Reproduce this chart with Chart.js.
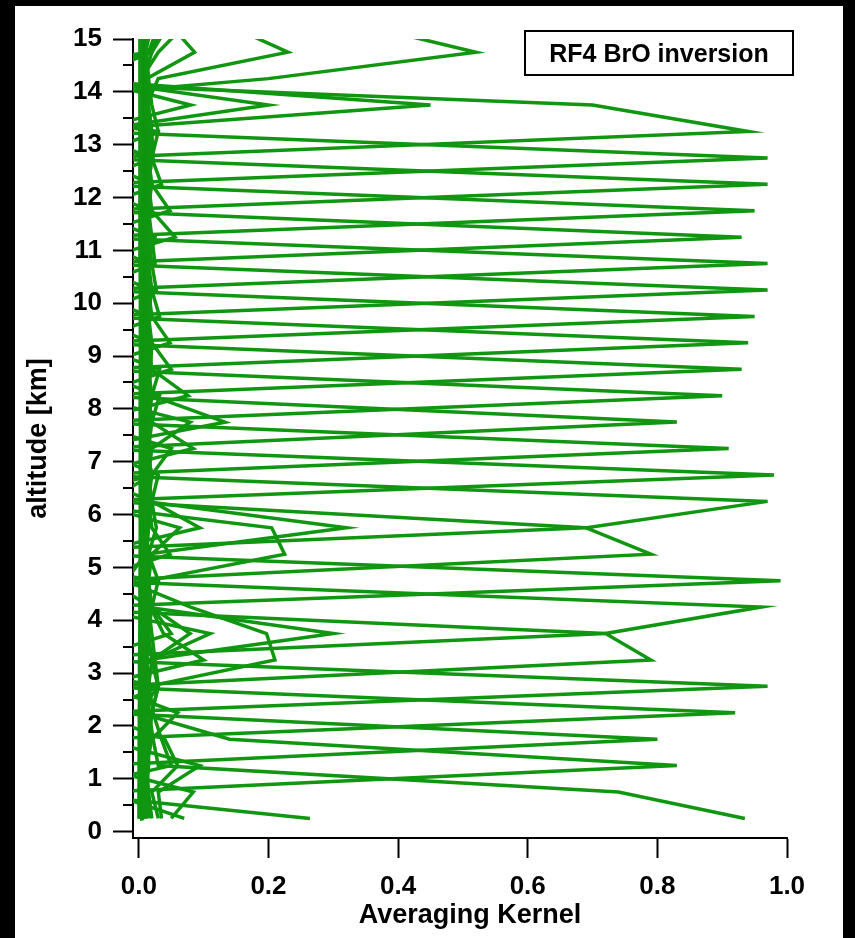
<!DOCTYPE html>
<html>
<head>
<meta charset="utf-8">
<script src="https://cdn.jsdelivr.net/npm/chart.js@4.4.1/dist/chart.umd.min.js"></script>
<style>
  html, body { margin: 0; padding: 0; background: #000; }
  #wrap { position: relative; width: 855px; height: 938px; }
</style>
</head>
<body>
<div id="wrap"><canvas id="ak" width="855" height="938"></canvas></div>
<script>
// Retrieval grid: layer centres in km
const altitudeKm = [0.25, 0.75, 1.25, 1.75, 2.25, 2.75, 3.25, 3.75, 4.25, 4.75, 5.25, 5.75, 6.25, 6.75, 7.25, 7.75,
  8.25, 8.75, 9.25, 9.75, 10.25, 10.75, 11.25, 11.75, 12.25, 12.75, 13.25, 13.75, 14.25, 14.75, 15.25];

// Averaging-kernel rows (one value per layer above), named by the layer they peak in
const ak_0_25  = [0.935, 0.74, 0.03, 0.022, 0.016, 0.012, 0.010, 0.008, 0.007, 0.006, 0.005, 0.005, 0.004, 0.004, 0.004, 0.003, 0.003, 0.003, 0.003, 0.003, 0.002, 0.002, 0.002, 0.002, 0.002, 0.002, 0.002, 0.002, 0.002, 0.002, 0.002];
const ak_0_25b = [0.264, -0.13, 0.05, 0.035, 0.022, 0.016, 0.012, 0.010, 0.009, 0.008, 0.007, 0.006, 0.006, 0.005, 0.005, 0.005, 0.004, 0.004, 0.004, 0.004, 0.003, 0.003, 0.003, 0.003, 0.003, 0.003, 0.003, 0.002, 0.002, 0.002, 0.002];
const ak_1_25  = [0.07, -0.05, 0.83, 0.14, 0.0, 0.03, 0.02, 0.015, 0.012, 0.010, 0.009, 0.008, 0.007, 0.006, 0.006, 0.005, 0.005, 0.005, 0.004, 0.004, 0.004, 0.004, 0.003, 0.003, 0.003, 0.003, 0.003, 0.003, 0.003, 0.003, 0.003];
const ak_1_75  = [0.05, 0.084, -0.07, 0.80, -0.06, 0.03, 0.025, 0.02, 0.015, 0.012, 0.010, 0.009, 0.008, 0.007, 0.007, 0.006, 0.006, 0.005, 0.005, 0.005, 0.004, 0.004, 0.004, 0.004, 0.004, 0.003, 0.003, 0.003, 0.003, 0.003, 0.003];
const ak_2_25  = [0.035, 0.03, 0.094, -0.06, 0.92, -0.07, 0.10, 0.038, 0.018, 0.015, 0.012, 0.011, 0.010, 0.009, 0.008, 0.007, 0.007, 0.006, 0.006, 0.005, 0.005, 0.005, 0.005, 0.004, 0.004, 0.004, 0.004, 0.004, 0.004, 0.003, 0.003];
const ak_2_75  = [0.03, 0.02, 0.06, 0.04, -0.07, 0.97, -0.08, 0.05, 0.02, 0.015, 0.012, 0.010, 0.010, 0.009, 0.008, 0.008, 0.007, 0.007, 0.006, 0.006, 0.006, 0.005, 0.005, 0.005, 0.005, 0.004, 0.004, 0.004, 0.004, 0.004, 0.004];
const ak_3_25  = [0.02, 0.015, 0.012, 0.02, 0.06, -0.05, 0.79, 0.72, 0.96, -0.08, 0.048, 0.02, 0.015, 0.012, 0.010, 0.009, 0.008, 0.008, 0.007, 0.007, 0.006, 0.006, 0.006, 0.005, 0.005, 0.005, 0.005, 0.004, 0.004, 0.004, 0.004];
const ak_3_75  = [0.015, 0.012, 0.01, 0.01, 0.012, 0.015, 0.01, 0.30, 0.01, 0.012, 0.010, 0.008, 0.007, 0.006, 0.006, 0.005, 0.005, 0.004, 0.004, 0.004, 0.004, 0.003, 0.003, 0.003, 0.003, 0.003, 0.003, 0.002, 0.002, 0.002, 0.002];
const ak_3_75b = [0.01, 0.012, 0.015, 0.015, 0.012, 0.015, 0.21, 0.197, 0.08, -0.02, 0.01, 0.008, 0.007, 0.006, 0.006, 0.005, 0.005, 0.004, 0.004, 0.004, 0.004, 0.003, 0.003, 0.003, 0.003, 0.003, 0.003, 0.002, 0.002, 0.002, 0.002];
const ak_3_75c = [0.012, 0.012, 0.012, 0.015, 0.02, 0.03, -0.19, 0.72, -0.19, 0.03, 0.015, 0.01, 0.008, 0.007, 0.006, 0.006, 0.005, 0.005, 0.004, 0.004, 0.004, 0.003, 0.003, 0.003, 0.003, 0.003, 0.002, 0.002, 0.002, 0.002, 0.002];
const ak_4_75  = [0.01, 0.01, 0.012, 0.015, 0.02, 0.03, 0.02, 0.11, -0.08, 0.99, -0.08, 0.094, 0.02, 0.015, 0.012, 0.010, 0.009, 0.008, 0.008, 0.007, 0.007, 0.006, 0.006, 0.005, 0.005, 0.005, 0.005, 0.004, 0.004, 0.004, 0.004];
const ak_5_25  = [0.008, 0.008, 0.01, 0.01, 0.012, 0.015, 0.02, 0.079, 0.02, -0.05, 0.79, 0.69, 0.97, -0.08, 0.084, 0.02, 0.015, 0.012, 0.010, 0.009, 0.008, 0.008, 0.007, 0.007, 0.006, 0.006, 0.005, 0.005, 0.005, 0.004, 0.004];
const ak_5_75  = [0.006, 0.007, 0.008, 0.008, 0.009, 0.01, 0.012, 0.015, 0.012, 0.015, 0.01, 0.32, 0.01, 0.012, 0.010, 0.008, 0.007, 0.006, 0.006, 0.005, 0.005, 0.005, 0.004, 0.004, 0.004, 0.003, 0.003, 0.003, 0.003, 0.003, 0.003];
const ak_5_75b = [0.006, 0.007, 0.008, 0.008, 0.009, 0.01, 0.012, 0.012, 0.014, 0.015, 0.225, 0.205, -0.13, 0.02, 0.012, 0.010, 0.008, 0.007, 0.006, 0.006, 0.005, 0.005, 0.005, 0.004, 0.004, 0.004, 0.003, 0.003, 0.003, 0.003, 0.003];
const ak_5_75c = [0.006, 0.006, 0.007, 0.008, 0.009, 0.01, 0.012, 0.015, 0.02, 0.03, -0.26, 0.69, -0.05, 0.02, 0.012, 0.01, 0.008, 0.007, 0.006, 0.006, 0.005, 0.005, 0.005, 0.004, 0.004, 0.004, 0.003, 0.003, 0.003, 0.003, 0.003];
const ak_6_75  = [0.005, 0.005, 0.006, 0.006, 0.007, 0.008, 0.009, 0.01, 0.012, 0.015, 0.02, 0.063, -0.08, 0.98, -0.08, 0.133, 0.02, 0.015, 0.012, 0.010, 0.009, 0.008, 0.008, 0.007, 0.006, 0.006, 0.005, 0.005, 0.005, 0.004, 0.004];
const ak_7_25  = [0.004, 0.005, 0.005, 0.006, 0.006, 0.007, 0.008, 0.009, 0.01, 0.012, 0.015, 0.027, 0.02, -0.08, 0.91, -0.08, 0.076, 0.02, 0.015, 0.012, 0.010, 0.009, 0.008, 0.007, 0.007, 0.006, 0.006, 0.005, 0.005, 0.005, 0.004];
const ak_7_75  = [0.004, 0.004, 0.005, 0.005, 0.006, 0.006, 0.007, 0.008, 0.009, 0.01, 0.012, 0.015, 0.02, 0.03, -0.07, 0.83, -0.07, 0.05, 0.02, 0.015, 0.012, 0.010, 0.009, 0.008, 0.007, 0.007, 0.006, 0.006, 0.005, 0.005, 0.005];
const ak_8_25  = [0.003, 0.004, 0.004, 0.005, 0.005, 0.006, 0.006, 0.007, 0.008, 0.009, 0.01, 0.012, 0.015, 0.02, 0.05, -0.08, 0.90, -0.08, 0.048, 0.02, 0.015, 0.012, 0.010, 0.009, 0.008, 0.007, 0.007, 0.006, 0.006, 0.005, 0.005];
const ak_8_75  = [0.003, 0.003, 0.004, 0.004, 0.005, 0.005, 0.006, 0.006, 0.007, 0.008, 0.009, 0.01, 0.012, 0.015, 0.02, 0.079, -0.08, 0.93, -0.08, 0.032, 0.02, 0.015, 0.012, 0.010, 0.009, 0.008, 0.007, 0.007, 0.006, 0.006, 0.005];
const ak_9_25  = [0.003, 0.003, 0.003, 0.004, 0.004, 0.005, 0.005, 0.006, 0.006, 0.007, 0.008, 0.009, 0.01, 0.012, 0.015, 0.02, 0.032, -0.08, 0.94, -0.08, 0.027, 0.02, 0.015, 0.012, 0.010, 0.009, 0.008, 0.007, 0.007, 0.006, 0.006];
const ak_9_75  = [0.002, 0.003, 0.003, 0.003, 0.004, 0.004, 0.005, 0.005, 0.006, 0.006, 0.007, 0.008, 0.009, 0.01, 0.012, 0.015, 0.02, 0.032, -0.08, 0.95, -0.08, 0.025, 0.02, 0.015, 0.012, 0.010, 0.009, 0.008, 0.007, 0.007, 0.006];
const ak_10_25 = [0.002, 0.002, 0.003, 0.003, 0.003, 0.004, 0.004, 0.005, 0.005, 0.006, 0.006, 0.007, 0.008, 0.009, 0.01, 0.012, 0.015, 0.018, 0.02, -0.08, 0.97, -0.08, 0.056, 0.02, 0.015, 0.012, 0.010, 0.009, 0.008, 0.007, 0.007];
const ak_10_75 = [0.002, 0.002, 0.002, 0.003, 0.003, 0.003, 0.004, 0.004, 0.005, 0.005, 0.006, 0.006, 0.007, 0.008, 0.009, 0.01, 0.012, 0.013, 0.014, 0.015, -0.08, 0.97, -0.08, 0.048, 0.02, 0.015, 0.012, 0.010, 0.009, 0.008, 0.008];
const ak_11_25 = [0.002, 0.002, 0.002, 0.002, 0.003, 0.003, 0.003, 0.004, 0.004, 0.005, 0.005, 0.006, 0.006, 0.007, 0.008, 0.009, 0.01, 0.011, 0.012, 0.014, 0.02, -0.08, 0.93, -0.08, 0.035, 0.02, 0.015, 0.012, 0.010, 0.009, 0.008];
const ak_11_75 = [0.001, 0.002, 0.002, 0.002, 0.002, 0.003, 0.003, 0.003, 0.004, 0.004, 0.005, 0.005, 0.006, 0.006, 0.007, 0.008, 0.009, 0.01, 0.011, 0.012, 0.014, 0.015, -0.08, 0.95, -0.08, 0.022, 0.02, 0.015, 0.012, 0.010, 0.009];
const ak_12_25 = [0.001, 0.001, 0.002, 0.002, 0.002, 0.002, 0.003, 0.003, 0.003, 0.004, 0.004, 0.005, 0.005, 0.006, 0.006, 0.007, 0.008, 0.009, 0.01, 0.011, 0.012, 0.014, 0.025, -0.08, 0.97, -0.08, 0.03, 0.02, 0.015, 0.012, 0.010];
const ak_12_75 = [0.001, 0.001, 0.001, 0.002, 0.002, 0.002, 0.002, 0.003, 0.003, 0.003, 0.004, 0.004, 0.005, 0.005, 0.006, 0.006, 0.007, 0.008, 0.009, 0.01, 0.011, 0.012, 0.014, 0.017, -0.08, 0.97, -0.08, 0.08, -0.08, 0.02, 0.03];
const ak_13_25 = [0.001, 0.001, 0.001, 0.001, 0.002, 0.002, 0.002, 0.002, 0.003, 0.003, 0.003, 0.004, 0.004, 0.005, 0.005, 0.006, 0.006, 0.007, 0.008, 0.009, 0.01, 0.011, 0.012, 0.014, 0.02, -0.07, 0.94, 0.70, -0.33, 0.02, 0.04];
const ak_13_75 = [0.002, 0.002, 0.002, 0.002, 0.003, 0.003, 0.003, 0.003, 0.004, 0.004, 0.004, 0.005, 0.005, 0.005, 0.006, 0.006, 0.007, 0.007, 0.008, 0.008, 0.009, 0.01, 0.011, 0.012, 0.015, 0.02, -0.11, 0.45, -0.12, 0.01, 0.02];
const ak_13_75b = [0.003, 0.003, 0.003, 0.003, 0.003, 0.004, 0.004, 0.004, 0.004, 0.005, 0.005, 0.005, 0.006, 0.006, 0.006, 0.007, 0.007, 0.008, 0.008, 0.009, 0.009, 0.01, 0.011, 0.012, 0.014, 0.018, -0.08, 0.20, -0.09, 0.015, 0.03];
const ak_14_75 = [0.002, 0.002, 0.002, 0.002, 0.002, 0.003, 0.003, 0.003, 0.003, 0.003, 0.004, 0.004, 0.004, 0.005, 0.005, 0.005, 0.006, 0.006, 0.007, 0.007, 0.008, 0.009, 0.01, 0.012, 0.015, 0.02, 0.03, -0.28, 0.20, 0.52, 0.35];
const ak_14_75b = [0.002, 0.002, 0.002, 0.002, 0.003, 0.003, 0.003, 0.003, 0.003, 0.004, 0.004, 0.004, 0.005, 0.005, 0.005, 0.006, 0.006, 0.007, 0.007, 0.008, 0.008, 0.009, 0.01, 0.011, 0.012, 0.014, 0.016, 0.012, 0.03, 0.23, 0.14];
const ak_14_75c = [0.003, 0.003, 0.003, 0.003, 0.004, 0.004, 0.004, 0.004, 0.005, 0.005, 0.005, 0.006, 0.006, 0.006, 0.007, 0.007, 0.008, 0.008, 0.009, 0.009, 0.01, 0.01, 0.011, 0.012, 0.013, 0.014, 0.012, 0.008, 0.012, 0.086, 0.05];
const ak_15_25 = [0.001, 0.001, 0.001, 0.001, 0.001, 0.002, 0.002, 0.002, 0.002, 0.002, 0.002, 0.003, 0.003, 0.003, 0.003, 0.004, 0.004, 0.004, 0.005, 0.005, 0.005, 0.006, 0.006, 0.007, 0.007, 0.008, 0.008, 0.006, 0.004, 0.03, 0.07];
const ak_15_75 = [0.001, 0.001, 0.001, 0.001, 0.001, 0.001, 0.001, 0.002, 0.002, 0.002, 0.002, 0.002, 0.002, 0.003, 0.003, 0.003, 0.003, 0.004, 0.004, 0.004, 0.005, 0.005, 0.005, 0.006, 0.006, 0.007, 0.009, 0.012, 0.008, 0.02, 0.045];

const kernelRows = [ak_0_25, ak_0_25b, ak_1_25, ak_1_75, ak_2_25, ak_2_75, ak_3_25, ak_3_75, ak_3_75b, ak_3_75c, ak_4_75,
  ak_5_25, ak_5_75, ak_5_75b, ak_5_75c, ak_6_75, ak_7_25, ak_7_75, ak_8_25, ak_8_75, ak_9_25, ak_9_75, ak_10_25, ak_10_75,
  ak_11_25, ak_11_75, ak_12_25, ak_12_75, ak_13_25, ak_13_75, ak_13_75b, ak_14_75, ak_14_75b, ak_14_75c, ak_15_25, ak_15_75];

const xTickStep = 0.2;
const yTickStep = 1;
const yMinorStep = 0.5;
const xAxisTitle = 'Averaging Kernel';
const yAxisTitle = 'altitude [km]';
const legendText = 'RF4 BrO inversion';

kernelRows.forEach((row, i) => {
  if (row.length !== altitudeKm.length) throw new Error('kernel row ' + i + ' has ' + row.length + ' values');
});

const LINE_GREEN = 'rgb(16,150,16)';
const FONT_FAMILY = '"Liberation Sans", Arial, Helvetica, sans-serif';
const boldFont = { family: FONT_FAMILY, weight: 'bold', size: 26 };

const datasets = kernelRows.map((row, i) => ({
  label: 'row ' + i,
  data: row.map((v, j) => ({ x: v, y: altitudeKm[j] })),
  showLine: true,
  borderColor: LINE_GREEN,
  borderWidth: 3.5,
  pointRadius: 0,
  tension: 0,
  fill: false,
  clip: 0
}));

// black surround with the white figure panel
const panelPlugin = {
  id: 'panel',
  beforeDraw(chart) {
    const { ctx, width, height } = chart;
    ctx.save();
    ctx.fillStyle = '#000';
    ctx.fillRect(0, 0, width, height);
    ctx.fillStyle = '#fff';
    ctx.fillRect(15, 6, 828, height - 6);
    ctx.restore();
  }
};

// half-kilometre minor ticks on the altitude axis, plus the kernel axis title
const axisExtrasPlugin = {
  id: 'axisExtras',
  afterDraw(chart) {
    const y = chart.scales.y;
    const area = chart.chartArea;
    const ctx = chart.ctx;
    ctx.save();
    ctx.strokeStyle = '#000';
    ctx.lineWidth = 2;
    for (let v = yMinorStep; v < y.max; v += 2 * yMinorStep) {
      const py = Math.round(y.getPixelForValue(v));
      ctx.beginPath();
      ctx.moveTo(area.left - 10, py);
      ctx.lineTo(area.left, py);
      ctx.stroke();
    }
    ctx.fillStyle = '#000';
    ctx.font = 'bold 27px ' + FONT_FAMILY;
    ctx.textAlign = 'center';
    ctx.textBaseline = 'alphabetic';
    ctx.fillText(xAxisTitle, (area.left + area.right) / 2 + 10, 923);
    ctx.restore();
  }
};

// boxed annotation in the upper right corner
const labelBoxPlugin = {
  id: 'labelBox',
  afterDraw(chart) {
    const ctx = chart.ctx;
    ctx.save();
    ctx.fillStyle = '#fff';
    ctx.fillRect(525, 31, 268, 44);
    ctx.strokeStyle = '#000';
    ctx.lineWidth = 2;
    ctx.strokeRect(525, 31, 268, 44);
    ctx.fillStyle = '#000';
    ctx.font = 'bold 25px ' + FONT_FAMILY;
    ctx.textAlign = 'center';
    ctx.textBaseline = 'alphabetic';
    ctx.fillText(legendText, 659, 62);
    ctx.restore();
  }
};

new Chart(document.getElementById('ak'), {
  type: 'scatter',
  data: { datasets },
  options: {
    responsive: false,
    animation: false,
    devicePixelRatio: 1,
    layout: { padding: { top: 39, right: 68, bottom: 0, left: 0 } },
    plugins: { legend: { display: false }, tooltip: { enabled: false }, title: { display: false } },
    scales: {
      x: {
        type: 'linear', position: 'bottom', min: -0.009, max: 1.0, z: 1,
        afterFit(scale) { scale.height = 100; },
        border: { display: true, color: '#000', width: 2 },
        grid: { display: true, drawOnChartArea: false, drawTicks: true, tickLength: 20, tickColor: '#000', tickWidth: 2 },
        ticks: {
          stepSize: xTickStep, includeBounds: false, padding: 13, color: '#000', font: boldFont,
          autoSkip: false, maxRotation: 0, callback: v => Number(v).toFixed(1)
        },
        title: { display: false }
      },
      y: {
        type: 'linear', position: 'left', min: -0.12, max: 15, z: 1,
        afterFit(scale) { scale.width = 133; },
        border: { display: true, color: '#000', width: 2 },
        grid: { display: true, drawOnChartArea: false, drawTicks: true, tickLength: 20, tickColor: '#000', tickWidth: 2 },
        ticks: {
          stepSize: yTickStep, includeBounds: false, padding: 11, color: '#000', font: boldFont,
          autoSkip: false, callback: v => String(Math.round(v))
        },
        title: { display: true, text: yAxisTitle, color: '#000', font: { family: FONT_FAMILY, weight: 'bold', size: 27 }, padding: { top: 22, bottom: 0 } }
      }
    }
  },
  plugins: [panelPlugin, axisExtrasPlugin, labelBoxPlugin]
});
</script>
</body>
</html>
